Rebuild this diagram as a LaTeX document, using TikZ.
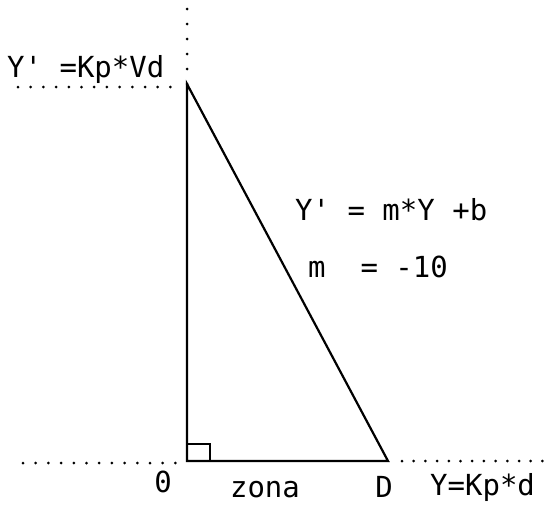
\documentclass[tikz,border=0pt]{standalone}
\usepackage{fontspec}
\setmonofont{DejaVu Sans Mono}

\tikzset{
  plotlbl/.style={font=\ttfamily\fontsize{29}{34}\selectfont, inner sep=0pt, text depth=0pt},
  side/.style={line width=2.2pt},
  dotline/.style={line width=3pt, line cap=round, dash pattern=on 0pt off #1},
  dotline/.default=12.7pt
}

\begin{document}
\begin{tikzpicture}[x=1pt,y=-1pt]
   \useasboundingbox (0,0) rectangle (554,506);

   % vertices of the triangle
   \coordinate (O) at (187,461);
   \coordinate (T) at (187,84);
   \coordinate (D) at (388,461);

   % dotted guide lines
   \coordinate (vtop) at (187,8);
   \coordinate (hleft) at (18,87);
   \coordinate (hend) at (176,87);
   \coordinate (bleft) at (23,463);
   \coordinate (bend) at (176,463);
   \coordinate (rstart) at (402,461);
   \coordinate (rend) at (554,461);
   \draw[dotline=15pt] (T) -- (vtop);
   \draw[dotline] (hleft) -- (hend);
   \draw[dotline] (bleft) -- (bend);
   \draw[dotline=11.7pt] (rstart) -- (rend);

   % triangle
   \draw[side] (O) -- (T) -- (D) -- cycle;
   \draw[side] (O) rectangle ++(23,-17);

   % labels
   \draw(7,77) node[plotlbl,anchor=base west] (ytop) {Y' =Kp*Vd};
   \draw(295,220) node[plotlbl,anchor=base west] (recta) {Y' = m*Y +b};
   \draw(308,277) node[plotlbl,anchor=base west] (slope) {m~~=~-10};
   \draw(163,492) node[plotlbl,anchor=base] (cero) {0};
   \draw(265,497) node[plotlbl,anchor=base] (zona) {zona};
   \draw(384,497) node[plotlbl,anchor=base] (dlbl) {D};
   \draw(430,495) node[plotlbl,anchor=base west] (ybot) {Y=Kp*d};
\end{tikzpicture}
\end{document}
